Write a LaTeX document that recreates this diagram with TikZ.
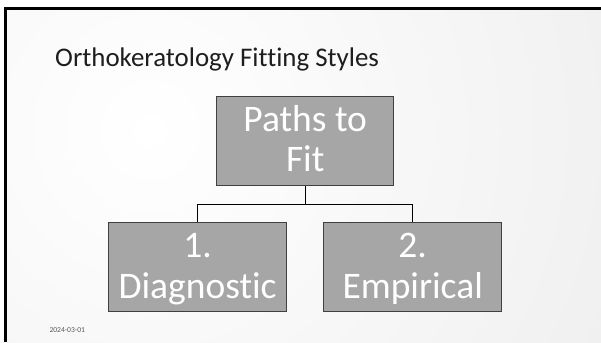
\documentclass[tikz,border=0pt]{standalone}
\usepackage{fontspec}
\setmainfont[Ligatures=NoCommon]{Carlito}
\usetikzlibrary{calc}
\definecolor{boxfill}{RGB}{166,166,166}
\definecolor{boxedge}{RGB}{64,64,64}
\definecolor{bgouter}{RGB}{228,228,228}
\definecolor{titlecol}{RGB}{30,30,30}
\tikzset{
  box/.style={draw=boxedge, line width=1pt, fill=boxfill, minimum width=177.5pt, minimum height=89pt, inner sep=0pt},
  lbl/.style={text=white, font=\fontsize{37.5}{40}\selectfont, anchor=base, inner sep=0pt},
  conn/.style={draw=black, line width=0.9pt},
}
\begin{document}
\begin{tikzpicture}[x=1pt, y=-1pt]
\useasboundingbox (0,0) rectangle (601,342);
\fill[bgouter] (0,0) rectangle (601,342);
\begin{scope}
  \clip (0,0) rectangle (601,342);
  \shade[inner color=white, outer color=bgouter] (150,130) circle (900);
\end{scope}
\fill[white] (0,0) rectangle (601,7);
\fill[white] (0,0) rectangle (4,342);
\draw[line width=3pt, black] (5.5,342) -- (5.5,8.5) -- (601,8.5);
\node[anchor=base west, text=titlecol, font=\fontsize{26.9}{30}\selectfont, inner sep=0pt] (title) at (55,66.5) {Orthokeratology Fitting Styles};
\node[box] (top) at (305.2,141.2) {};
\node[box] (left) at (197.6,267.3) {};
\node[box] (right) at (412.7,267.3) {};
\node[lbl] (t1) at ($(top.center)+(0,-9.5)$) {Paths to};
\node[lbl] (t2) at ($(top.center)+(0,30.5)$) {Fit};
\node[lbl] (l1) at ($(left.center)+(0,-10)$) {1.};
\node[lbl] (l2) at ($(left.center)+(0,31)$) {Diagnostic};
\node[lbl] (r1) at ($(right.center)+(0,-10)$) {2.};
\node[lbl] (r2) at ($(right.center)+(0,31)$) {Empirical};
\coordinate (bus) at (305.2,204.7);
\draw[conn] (top.south) -- (bus);
\draw[conn] (bus) -| (left.north);
\draw[conn] (bus) -| (right.north);
\node[anchor=base west, text={rgb,255:red,89;green,89;blue,89}, font=\fontsize{7.6}{9}\selectfont, inner sep=0pt] (date) at (49.3,332.7) {2024-03-01};
\end{tikzpicture}
\end{document}
